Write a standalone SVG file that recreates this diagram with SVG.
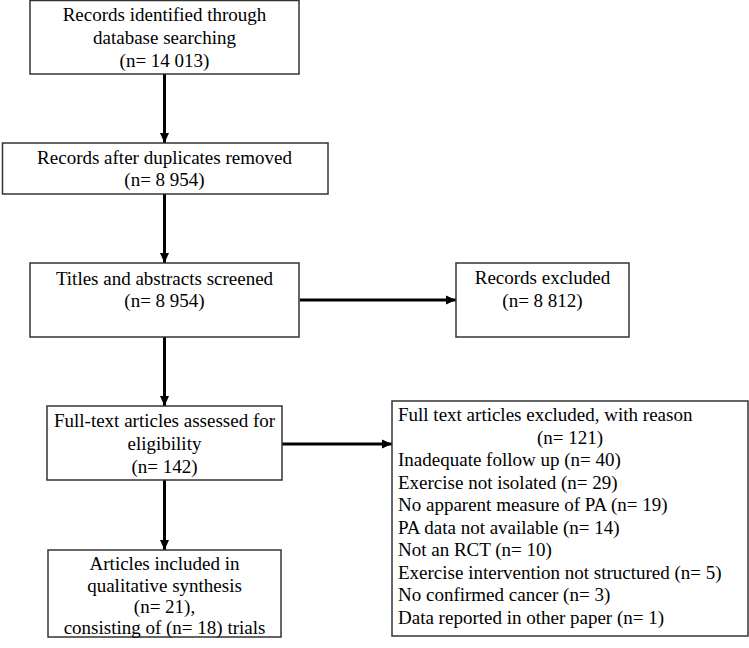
<svg xmlns="http://www.w3.org/2000/svg" width="749" height="648" viewBox="0 0 749 648">
<style>
.box{fill:#ffffff;stroke:#333333;stroke-width:1.5}
.line{stroke:#000000;stroke-width:3;fill:none}
</style>
<defs>
<marker id="ah" markerUnits="userSpaceOnUse" markerWidth="10" markerHeight="10" viewBox="0 0 10 10" refX="10" refY="5" orient="auto">
<path d="M0,0.5 L10,5 L0,9.5 Z" fill="#000000"/>
</marker>
</defs>
<rect width="749" height="648" fill="#ffffff"/>
<g id="connectors">
<line class="line" x1="164.5" y1="74" x2="164.5" y2="143" marker-end="url(#ah)"/>
<line class="line" x1="164.5" y1="194" x2="164.5" y2="263" marker-end="url(#ah)"/>
<line class="line" x1="164.5" y1="337" x2="164.5" y2="406" marker-end="url(#ah)"/>
<line class="line" x1="164.5" y1="480" x2="164.5" y2="550" marker-end="url(#ah)"/>
<line class="line" x1="300" y1="300" x2="456" y2="300" marker-end="url(#ah)"/>
<line class="line" x1="282" y1="444" x2="392" y2="444" marker-end="url(#ah)"/>
</g>
<g font-family="'Liberation Serif', 'Times New Roman', serif" font-size="19" fill="#000000">
<g id="identified" text-anchor="middle">
<rect class="box" x="30" y="0.5" width="269" height="73.5"/>
<text x="164.5" y="21">Records identified through</text>
<text x="164.5" y="44">database searching</text>
<text x="164.5" y="67">(n= 14 013)</text>
</g>
<g id="duplicates" text-anchor="middle">
<rect class="box" x="2.5" y="143" width="325.5" height="51"/>
<text x="164.5" y="164">Records after duplicates removed</text>
<text x="164.5" y="186">(n= 8 954)</text>
</g>
<g id="screened" text-anchor="middle">
<rect class="box" x="30" y="263" width="269" height="74"/>
<text x="164.5" y="285">Titles and abstracts screened</text>
<text x="164.5" y="307">(n= 8 954)</text>
</g>
<g id="excluded" text-anchor="middle">
<rect class="box" x="456" y="263" width="173" height="74"/>
<text x="542.5" y="284">Records excluded</text>
<text x="542.5" y="307">(n= 8 812)</text>
</g>
<g id="fulltext" text-anchor="middle">
<rect class="box" x="47" y="406" width="235" height="74"/>
<text x="164.5" y="427">Full-text articles assessed for</text>
<text x="164.5" y="450">eligibility</text>
<text x="164.5" y="473">(n= 142)</text>
</g>
<g id="included" text-anchor="middle">
<rect class="box" x="48" y="550" width="233" height="87"/>
<text x="164.5" y="570">Articles included in</text>
<text x="164.5" y="591.5">qualitative synthesis</text>
<text x="164.5" y="613">(n= 21),</text>
<text x="164.5" y="634">consisting of (n= 18) trials</text>
</g>
<g id="reasons">
<rect class="box" x="392" y="401" width="356" height="235"/>
<text x="398" y="421">Full text articles excluded, with reason</text>
<text x="570" y="443.5" text-anchor="middle">(n= 121)</text>
<text x="398" y="466">Inadequate follow up (n= 40)</text>
<text x="398" y="488.5">Exercise not isolated (n= 29)</text>
<text x="398" y="511">No apparent measure of PA (n= 19)</text>
<text x="398" y="533.5">PA data not available (n= 14)</text>
<text x="398" y="556">Not an RCT (n= 10)</text>
<text x="398" y="578.5">Exercise intervention not structured (n= 5)</text>
<text x="398" y="601">No confirmed cancer (n= 3)</text>
<text x="398" y="623.5">Data reported in other paper (n= 1)</text>
</g>
</g>
</svg>
